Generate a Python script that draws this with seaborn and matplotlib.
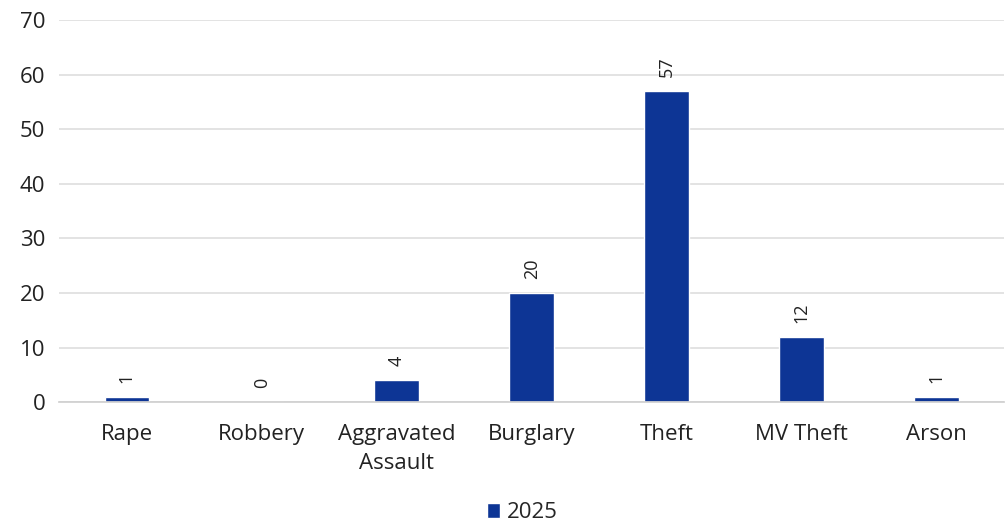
import matplotlib
matplotlib.use("Agg")
import matplotlib.pyplot as plt
import seaborn as sns
import pandas as pd
from matplotlib.patches import Patch

categories = ["Rape", "Robbery", "Aggravated\nAssault", "Burglary", "Theft", "MV Theft", "Arson"]
values_2025 = [1, 0, 4, 20, 57, 12, 1]
series_name = "2025"
y_ticks = [0, 10, 20, 30, 40, 50, 60, 70]

sns.set_theme(style="white")
plt.rcParams['font.family'] = ['Open Sans', 'DejaVu Sans']

df = pd.DataFrame({"Category": categories, "Count": values_2025, "Year": series_name})

fig = plt.figure(figsize=(10.05, 5.25), dpi=100)
ax = fig.add_axes([0.059, 0.234, 0.94, 0.728])
bar_color = "#0d3595"
sns.barplot(data=df, x="Category", y="Count", hue="Year", palette=[bar_color],
            width=0.33, ax=ax, legend=False, saturation=1)

ax.set_ylim(0, 70)
ax.set_yticks(y_ticks)
ax.yaxis.grid(True, color="#dedede", linewidth=1.2)
ax.set_axisbelow(True)
for s in ["left", "right", "top"]:
    ax.spines[s].set_visible(False)
ax.spines["bottom"].set_color("#d0d0d0")
ax.set_xlabel("")
ax.set_ylabel("")
ax.tick_params(axis="y", labelsize=16, colors="#222222", pad=10, length=0)
ax.tick_params(axis="x", labelsize=16, colors="#222222", pad=16, length=0)
for lbl in ax.get_xticklabels():
    lbl.set_linespacing(1.45)

for i, v in enumerate(values_2025):
    ax.annotate(str(v), (i, v), xytext=(0, 10), textcoords="offset points",
                rotation=90, ha="center", va="bottom", fontsize=13, color="#222222")

fig.legend(handles=[Patch(facecolor=bar_color, label=series_name)], loc="lower center",
           bbox_to_anchor=(0.52, -0.035), frameon=False, fontsize=16,
           handlelength=0.6, handleheight=0.6, handletextpad=0.3)

fig.savefig("out.png", dpi=100)
